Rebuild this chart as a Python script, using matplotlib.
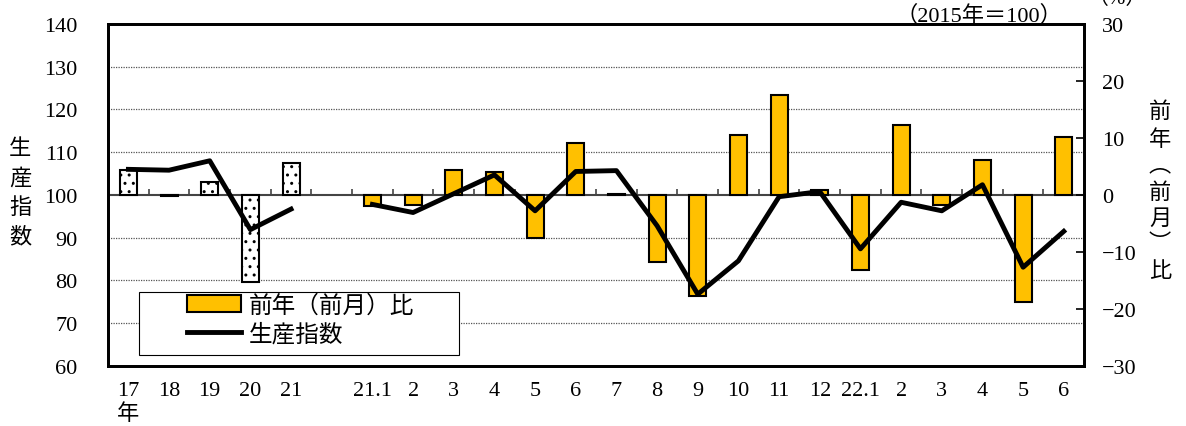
import numpy as np
import matplotlib
matplotlib.use("Agg")
import matplotlib.pyplot as plt
from matplotlib.patches import Patch, Rectangle
from matplotlib.lines import Line2D

plt.rcParams['font.family'] = ['Liberation Serif', 'Noto Sans CJK JP']
plt.rcParams['hatch.linewidth'] = 1.0

# 年次 (17年〜21年)
labels_year = ['17\n年', '18', '19', '20', '21']
idx_year = [106.0, 105.8, 108.0, 91.9, 96.7]
pct_year = [4.4, -0.2, 2.2, -15.2, 5.6]

# 月次 (21.1〜22.6)
labels_month = ['21.1', '2', '3', '4', '5', '6', '7', '8', '9', '10', '11', '12',
                '22.1', '2', '3', '4', '5', '6']
idx_month = [97.8, 95.9, 100.3, 104.7, 96.3, 105.5, 105.7, 92.8, 76.8, 84.6,
             99.6, 100.8, 87.4, 98.3, 96.3, 102.4, 83.1, 91.5]
pct_month = [-2.0, -1.75, 4.4, 4.1, -7.6, 9.1, 0.2, -11.8, -17.8, 10.5,
             17.6, 0.9, -13.1, 12.2, -1.75, 6.1, -18.8, 10.1]

x_year = np.arange(len(labels_year))
x_month = np.arange(len(labels_month)) + len(labels_year) + 1
n_slots = len(labels_year) + 1 + len(labels_month)

fig = plt.figure(figsize=(11.86, 4.27), dpi=100)
ax = fig.add_axes([0.0911, 0.1405, 0.823, 0.801])
ax.set_xlim(-0.5, n_slots - 0.5)
ax.set_ylim(60, 140)
ax.set_yticks(range(60, 141, 10))
for y in [70, 80, 90, 110, 120, 130]:
    ax.axhline(y, color='#555555', lw=0.9, ls=(0, (1, 1)), zorder=1)
ax.axhline(100, color='#444444', lw=1.5, zorder=1)
ax.vlines(np.arange(0.5, n_slots - 0.5, 1), 100, 101.4, color='#444444', lw=1.2)
ax.set_xticks(list(x_year) + list(x_month))
ax.set_xticklabels(labels_year + labels_month)
ax.tick_params(axis='x', length=0, labelsize=16, pad=11)
ax.tick_params(axis='y', length=0, labelsize=16, pad=22)
for s in ax.spines.values():
    s.set_linewidth(2)

# 前年（前月）比 - 右軸
ax2 = ax.twinx()
ax2.set_ylim(-30, 30)
ax2.bar(x_year, pct_year, width=0.42, color='white', edgecolor='black',
        lw=1.5, hatch='..')
ax2.bar(x_month, pct_month, width=0.42, color='#FFC000', edgecolor='black', lw=1.5)
ax2.set_yticks(range(-30, 31, 10))
ax2.tick_params(axis='y', direction='in', length=6, width=1.2, labelsize=16, pad=13)
for s in ax2.spines.values():
    s.set_linewidth(2)

# 生産指数 - 左軸のスケールで上に重ねる
ax3 = ax.twinx()
ax3.set_ylim(60, 140)
ax3.axis('off')
ax3.plot(x_year, idx_year, color='black', lw=3.5)
ax3.plot(x_month, idx_month, color='black', lw=3.5)

ax3.add_patch(Rectangle((0.0318, 0.032), 0.328, 0.184, transform=ax3.transAxes,
                        facecolor='white', edgecolor='black', lw=0.8, zorder=4))
handles = [Patch(facecolor='#FFC000', edgecolor='black', lw=1.5),
           Line2D([], [], color='black', lw=3.5)]
leg = ax3.legend(handles, ['前年（前月）比', '生産指数'], loc='upper left',
                 bbox_to_anchor=(0.081, 0.21), frameon=False, borderpad=0,
                 borderaxespad=0, handlelength=2.3, handletextpad=0.3,
                 labelspacing=0.25, fontsize=17)
leg.set_zorder(5)

fig.text(20 / 1186, 0.545, '\n'.join('生産指数'), fontsize=16, ha='center',
         va='center', linespacing=1.55)
fig.text(1160 / 1186, 0.55, '\n'.join('前年︵前月︶比'), fontsize=16, ha='center',
         va='center', linespacing=1.45)
fig.text(1062 / 1186, 0.963, '（2015年＝100）', fontsize=16, ha='right', va='center')
fig.text(1117 / 1186, 1 - 9 / 427, '（%）', fontsize=15, ha='center', va='bottom')

fig.savefig('out.png', dpi=100)
